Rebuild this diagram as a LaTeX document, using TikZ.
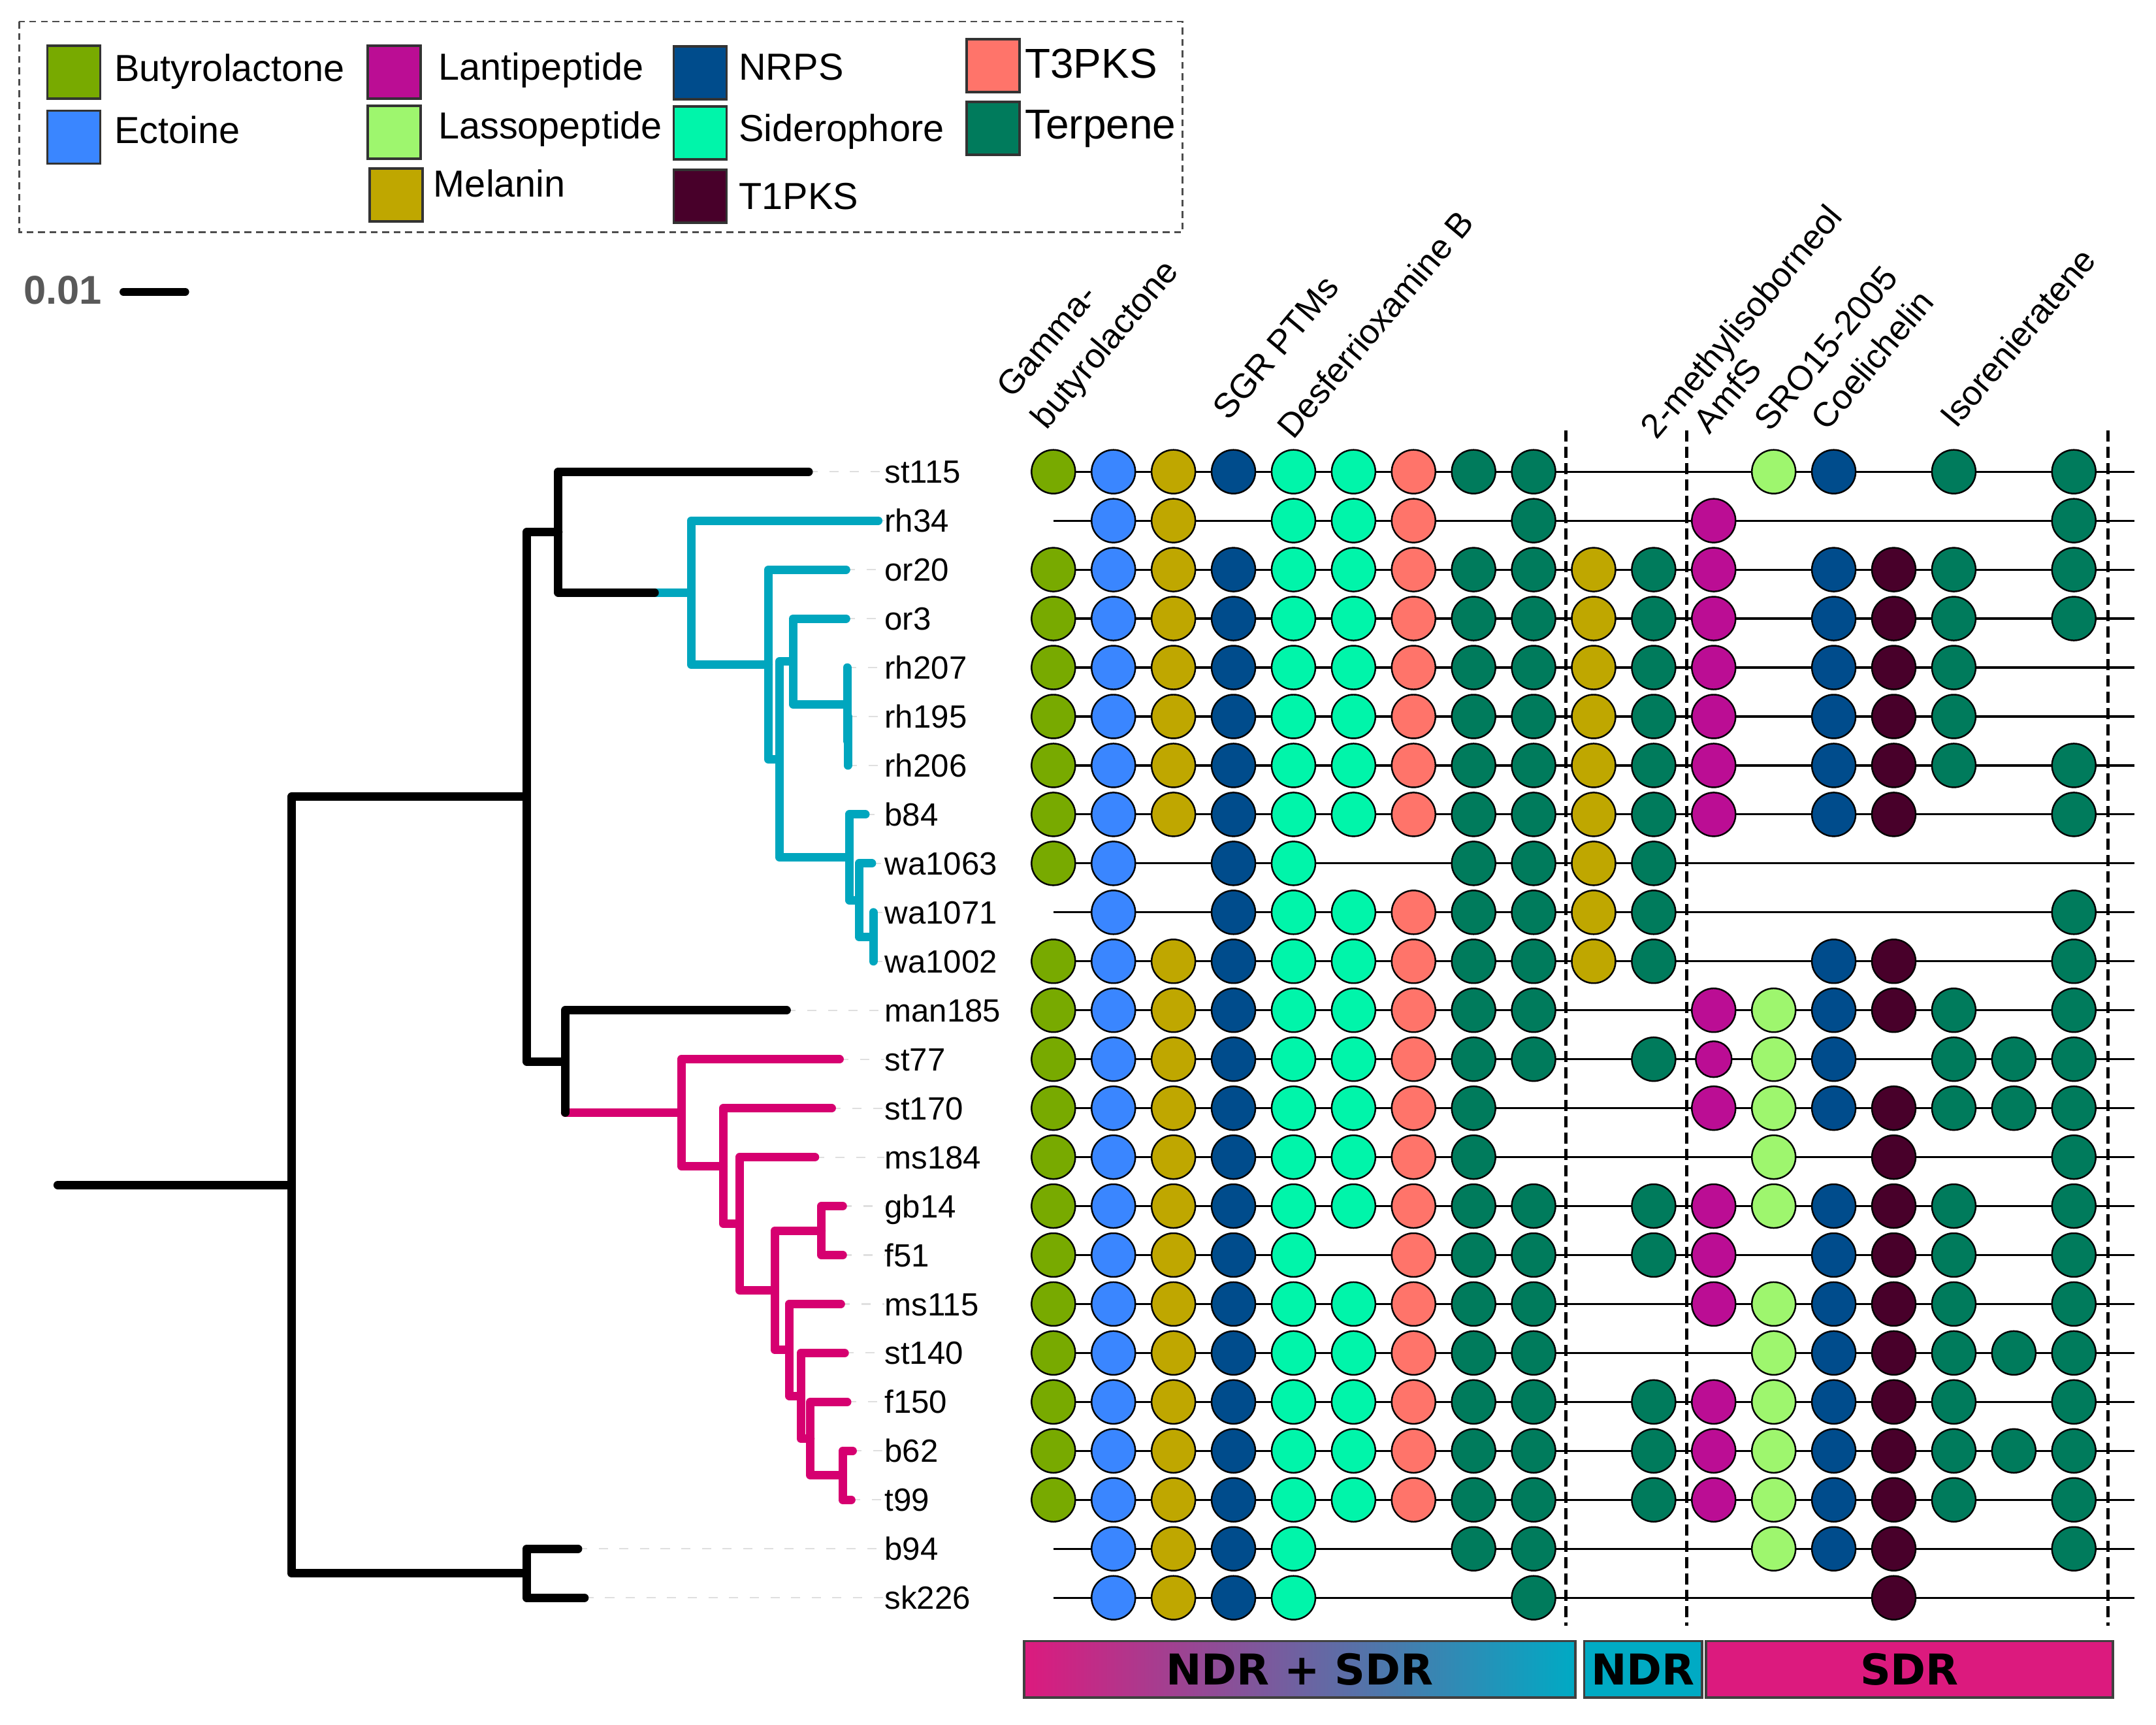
\documentclass[tikz,border=0pt]{standalone}
\usepackage{fontspec}
\setmainfont{Liberation Sans}
\newfontfamily\barfont{DejaVu Sans}
\usetikzlibrary{positioning,calc}

\definecolor{butyro}{RGB}{120,170,0}
\definecolor{ectoine}{RGB}{58,134,255}
\definecolor{lanti}{RGB}{187,13,148}
\definecolor{lasso}{RGB}{158,246,110}
\definecolor{melanin}{RGB}{191,167,0}
\definecolor{nrps}{RGB}{0,76,140}
\definecolor{sidero}{RGB}{0,245,170}
\definecolor{tpksone}{RGB}{72,0,42}
\definecolor{tpksthree}{RGB}{255,116,106}
\definecolor{terpene}{RGB}{0,123,92}
\definecolor{ndrcyan}{RGB}{0,166,190}
\definecolor{sdrmag}{RGB}{214,0,112}
\definecolor{ndrfill}{RGB}{0,170,196}
\definecolor{sdrfill}{RGB}{220,26,126}

\tikzset{
  treeedge/.style={line width=0.13cm, line cap=round, line join=round},
  ndredge/.style={treeedge, ndrcyan},
  sdredge/.style={treeedge, sdrmag},
  leader/.style={gray!25, line width=0.6pt, dash pattern=on 4pt off 5pt},
  leaflabel/.style={anchor=west, inner sep=0pt, text height=10pt, text depth=0pt,
    font=\fontsize{14}{16}\selectfont},
  colhead/.style={anchor=base west, rotate=50, inner sep=0pt,
    font=\fontsize{15}{18}\selectfont},
  rowline/.style={black, line width=0.9pt},
  sepline/.style={black, line width=1.5pt, dash pattern=on 0.17cm off 0.08cm},
  bgc/.style={circle, draw=black, line width=0.7pt, inner sep=0pt, minimum size=0.67cm},
  bgc1/.style={bgc, fill=butyro},
  bgc2/.style={bgc, fill=ectoine},
  bgc3/.style={bgc, fill=melanin},
  bgc4/.style={bgc, fill=nrps},
  bgc5/.style={bgc, fill=sidero},
  bgc6/.style={bgc, fill=sidero},
  bgc7/.style={bgc, fill=tpksthree},
  bgc8/.style={bgc, fill=terpene},
  bgc9/.style={bgc, fill=terpene},
  bgc10/.style={bgc, fill=melanin},
  bgc11/.style={bgc, fill=terpene},
  bgc12/.style={bgc, fill=lanti},
  bgc13/.style={bgc, fill=lasso},
  bgc14/.style={bgc, fill=nrps},
  bgc15/.style={bgc, fill=tpksone},
  bgc16/.style={bgc, fill=terpene},
  bgc17/.style={bgc, fill=terpene},
  bgc18/.style={bgc, fill=terpene},
  legframe/.style={black!70, line width=0.8pt, dash pattern=on 3pt off 2pt},
  legsq/.style={draw=black!80, line width=1pt, inner sep=0pt, minimum size=0.81cm, anchor=north west},
  legtext/.style={anchor=base west, inner sep=0pt},
  scaletext/.style={anchor=base west, inner sep=0pt, text=black!65,
    font=\fontsize{17.5}{20}\selectfont\bfseries},
  scalebar/.style={line width=0.12cm, line cap=round},
  regionbar/.style={draw=black!75, line width=1pt, inner sep=0pt,
    minimum height=0.864cm, font=\barfont\bfseries\fontsize{18.5}{20}\selectfont}
}

\begin{document}
\begin{tikzpicture}[x=0.021055cm, y=-0.021055cm]
\path[use as bounding box] (0,0) rectangle (1567.8,1254.3);

% legend
\draw[legframe] (14,15.7) rectangle (860,169);
\foreach \col/\txt/\sx/\sy/\tx/\ty/\fs in {
    butyro/Butyrolactone/33.6/32.3/83/59/16.4,
    ectoine/Ectoine/33.6/79.6/83/104.3/16.4,
    lanti/Lantipeptide/266.5/32.3/318.4/58.3/16.4,
    lasso/Lassopeptide/266.5/76/318.4/100.8/16.4,
    melanin/Melanin/268/121.8/315/143.3/16.4,
    nrps/NRPS/489/33/537/58/16.4,
    sidero/Siderophore/489/76.7/537/102.7/16.4,
    tpksone/T1PKS/489/122.6/537/152.3/16.4,
    tpksthree/T3PKS/702/27.6/745/56.7/18.2,
    terpene/Terpene/702/73.2/745/101/18.2}{
  \node[legsq, fill=\col] (leg-\col) at (\sx,\sy) {};
  \node[legtext, font=\fontsize{\fs}{\fs}\selectfont] (legtxt-\col) at (\tx,\ty) {\txt};
}

% scale
\node[scaletext] (scale-lbl) at (16.8,221.3) {0.01};
\coordinate (scale-a) at (89.8,212.2);
\coordinate (scale-b) at (134.7,212.2);
\draw[scalebar] (scale-a) -- (scale-b);

% column headers
\foreach \hx/\hy/\txt [count=\k] in {736/290.7/Gamma-, 761/313.4/butyrolactone,
    893.4/307/SGR PTMs, 940.3/320.5/Desferrioxamine B,
    1204.7/320.5/2-methylisoborneol, 1243/316.6/AmfS, 1287/315/SRO15-2005,
    1328.6/314.3/Coelichelin, 1422.3/312.7/Isorenieratene}
  \node[colhead] (head\k) at (\hx,\hy) {\txt};

% leaves, labels and clusters
\foreach \lname/\tipx/\cols [count=\i from 0] in {
    st115/588/{1,2,3,4,5,6,7,8,9,13,14,16,18},
    rh34/638.6/{2,3,5,6,7,9,12,18},
    or20/615.2/{1,2,3,4,5,6,7,8,9,10,11,12,14,15,16,18},
    or3/615.2/{1,2,3,4,5,6,7,8,9,10,11,12,14,15,16,18},
    rh207/616/{1,2,3,4,5,6,7,8,9,10,11,12,14,15,16},
    rh195/616.5/{1,2,3,4,5,6,7,8,9,10,11,12,14,15,16},
    rh206/616.5/{1,2,3,4,5,6,7,8,9,10,11,12,14,15,16,18},
    b84/629.3/{1,2,3,4,5,6,7,8,9,10,11,12,14,15,18},
    wa1063/634/{1,2,4,5,8,9,10,11},
    wa1071/635/{2,4,5,6,7,8,9,10,11,18},
    wa1002/635/{1,2,3,4,5,6,7,8,9,10,11,14,15,18},
    man185/572/{1,2,3,4,5,6,7,8,9,12,13,14,15,16,18},
    st77/610.5/{1,2,3,4,5,6,7,8,9,11,13,14,16,17,18},
    st170/604.8/{1,2,3,4,5,6,7,8,12,13,14,15,16,17,18},
    ms184/592.6/{1,2,3,4,5,6,7,8,13,15,18},
    gb14/612.8/{1,2,3,4,5,6,7,8,9,11,12,13,14,15,16,18},
    f51/612.8/{1,2,3,4,5,7,8,9,11,12,14,15,16,18},
    ms115/611.4/{1,2,3,4,5,6,7,8,9,12,13,14,15,16,18},
    st140/614.2/{1,2,3,4,5,6,7,8,9,13,14,15,16,17,18},
    f150/616/{1,2,3,4,5,6,7,8,9,11,12,13,14,15,16,18},
    b62/620/{1,2,3,4,5,6,7,8,9,11,12,13,14,15,16,17,18},
    t99/619/{1,2,3,4,5,6,7,8,9,11,12,13,14,15,16,18},
    b94/420.3/{2,3,4,5,8,9,13,14,15,18},
    sk226/425/{2,3,4,5,9,15}}{
  \coordinate (\lname) at (\tipx,343+35.6*\i);
  \node[leaflabel] (\lname-txt) at (643,343+35.6*\i) {\lname};
  \draw[leader] (\lname) -- (\lname-txt.west);
  \coordinate (\lname-start) at (766,343+35.6*\i);
  \coordinate (\lname-end) at (1552,343+35.6*\i);
  \draw[rowline] (\lname-start) -- (\lname-end);
  \foreach \c in \cols
    \node[bgc\c] (\lname-\c) at (766+43.65*\c-43.65,343+35.6*\i) {};
}
\node[bgc12, minimum size=0.55cm] (st77-12) at (766+43.65*11,343+35.6*12) {};

% region separators
\foreach \sx [count=\k] in {1138.5,1226.5,1533}{
  \coordinate (sep\k-top) at (\sx,313);
  \coordinate (sep\k-bot) at (\sx,1182);
  \draw[sepline] (sep\k-top) -- (sep\k-bot);
}

% internal nodes
\coordinate (root) at (42,861.7);
\coordinate (r0) at (212,861.7);
\coordinate (u1) at (383,579.4);
\coordinate (l1) at (383,1144);
\coordinate (u2) at (406,386.9);
\coordinate (u3) at (411,771.8);
\coordinate (c0) at (476,430.9);
\coordinate (c1) at (502.5,430.9);
\coordinate (c2) at (558.8,483.2);
\coordinate (c3) at (566.8,552.2);
\coordinate (c4) at (576.7,481);
\coordinate (c5) at (616,512.1);
\coordinate (c6) at (616.5,538.8);
\coordinate (c7) at (617.5,623.4);
\coordinate (c8) at (624.6,654.5);
\coordinate (c9) at (635,681.2);
\coordinate (m0) at (411,809);
\coordinate (m1) at (495.4,809);
\coordinate (m2) at (526,847.8);
\coordinate (m3) at (537.7,889.8);
\coordinate (m4) at (563.5,938.2);
\coordinate (m5) at (597.3,894.8);
\coordinate (m6) at (573.9,981.6);
\coordinate (m7) at (582.3,1015);
\coordinate (m8) at (589.3,1046.1);
\coordinate (m9) at (612.8,1072.8);

% edges
\draw[ndredge] (c0) -- (c1);
\foreach \a/\b in {c1/rh34, c1/c2, c2/or20, c2/c3, c3/c4, c3/c7, c4/or3, c4/c5,
    c5/rh207, c5/c6, c6/rh195, c6/rh206, c7/b84, c7/c8, c8/wa1063, c8/c9,
    c9/wa1071, c9/wa1002}
  \draw[ndredge] (\a) |- (\b);
\draw[sdredge] (m0) -- (m1);
\foreach \a/\b in {m1/st77, m1/m2, m2/st170, m2/m3, m3/ms184, m3/m4, m4/m5, m4/m6,
    m5/gb14, m5/f51, m6/ms115, m6/m7, m7/st140, m7/m8, m8/f150, m8/m9,
    m9/b62, m9/t99}
  \draw[sdredge] (\a) |- (\b);
\draw[treeedge] (root) -- (r0);
\foreach \a/\b in {r0/u1, r0/l1, u1/u2, u1/u3, u2/st115, u2/c0, u3/man185,
    l1/b94, l1/sk226}
  \draw[treeedge] (\a) |- (\b);
\draw[treeedge] (u3) -- (m0);

% region bars
\node[regionbar, left color=sdrfill, right color=ndrfill, minimum width=8.44cm]
  (bar-both) at (945.15,1213.75) {NDR + SDR};
\node[regionbar, fill=ndrfill, minimum width=1.804cm] (bar-ndr) at (1194.85,1213.75) {NDR};
\node[regionbar, fill=sdrfill, minimum width=6.232cm] (bar-sdr) at (1388.5,1213.75) {SDR};
\end{tikzpicture}
\end{document}
